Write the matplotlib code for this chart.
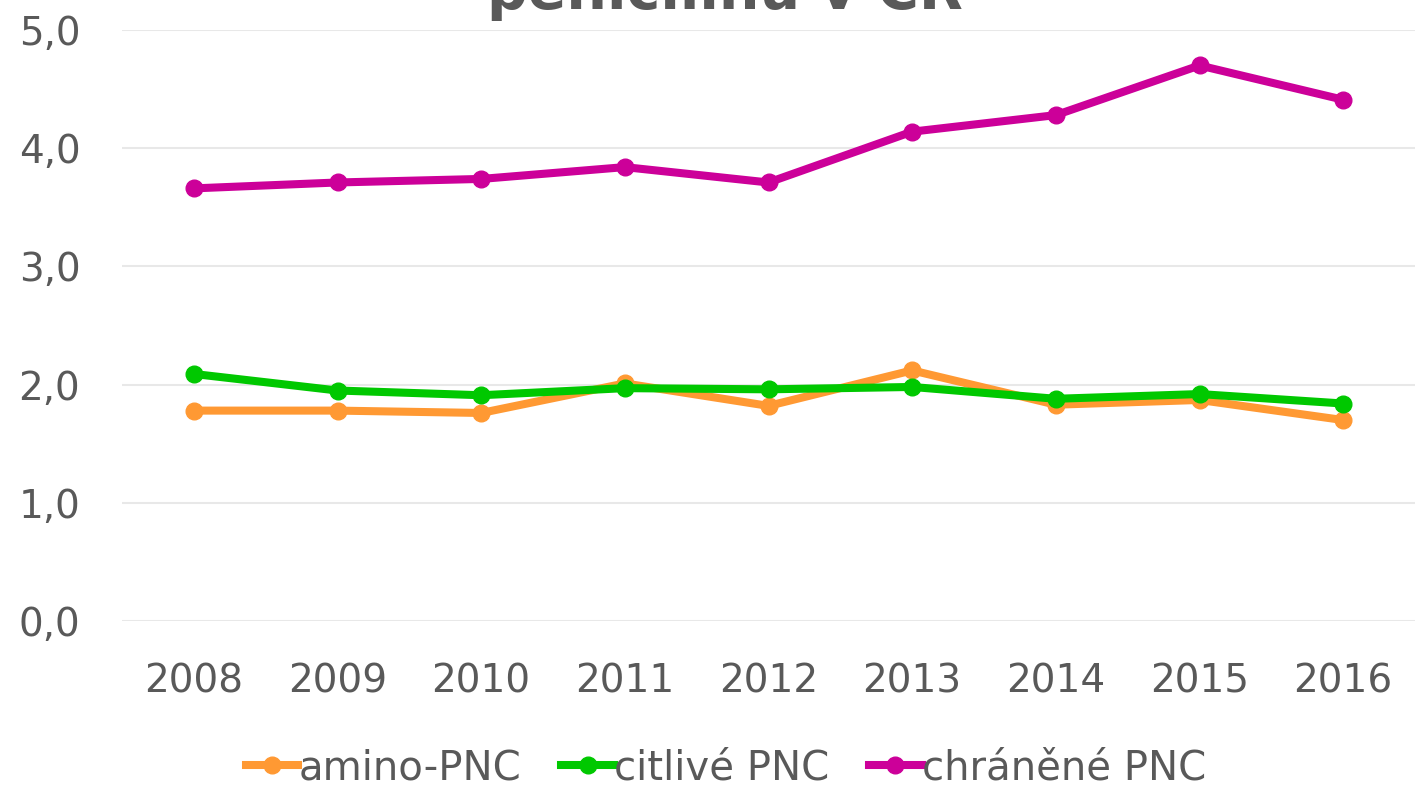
import matplotlib.pyplot as plt
from matplotlib.ticker import FuncFormatter

years = ["2008", "2009", "2010", "2011", "2012", "2013", "2014", "2015", "2016"]
amino = [1.78, 1.78, 1.76, 2.01, 1.82, 2.12, 1.83, 1.87, 1.70]
citlive = [2.09, 1.95, 1.91, 1.97, 1.96, 1.98, 1.88, 1.92, 1.84]
chranene = [3.66, 3.71, 3.74, 3.84, 3.71, 4.14, 4.28, 4.70, 4.41]
series_names = ["amino-PNC", "citlivé PNC", "chráněné PNC"]
yticks = [0, 1, 2, 3, 4, 5]

COLORS = ["#FF9933", "#00C800", "#CC0099"]
TEXT = "#595959"

fig = plt.figure(figsize=(14.15, 7.87), dpi=100)
ax = fig.add_axes([122 / 1415, 1 - 621 / 787, 1 - 122 / 1415, (621 - 30) / 787])

x = list(range(len(years)))
for vals, name, c in zip([amino, citlive, chranene], series_names, COLORS):
    ax.plot(x, vals, color=c, linewidth=5.8, marker="o", markersize=12,
            label=name, solid_joinstyle="round")

ax.set_xlim(-0.5, len(years) - 0.5)
ax.set_ylim(0, 5)
ax.set_yticks(yticks)
ax.yaxis.set_major_formatter(FuncFormatter(lambda v, p: f"{v:.1f}".replace(".", ",")))
ax.set_xticks(x)
ax.set_xticklabels(years)
ax.grid(axis="y", color="#E8E8E8", linewidth=1.5)
ax.set_axisbelow(True)
for s in ax.spines.values():
    s.set_visible(False)
ax.tick_params(length=0, labelsize=28, colors=TEXT)
ax.tick_params(axis="x", pad=30)
ax.tick_params(axis="y", pad=30)

# title (its top is cut off in the reference)
fig.text(0.512, 1 - 9 / 787, "penicilinů v ČR", ha="center", va="baseline",
         fontsize=41, fontweight="bold", color=TEXT)

leg = fig.legend(loc="center", bbox_to_anchor=(0.513, 1 - 768 / 787), ncol=3,
                 frameon=False, fontsize=29, handlelength=1.3, handletextpad=0.0,
                 columnspacing=1.0, labelcolor=TEXT)

fig.savefig("out.png", dpi=100, facecolor="white")
